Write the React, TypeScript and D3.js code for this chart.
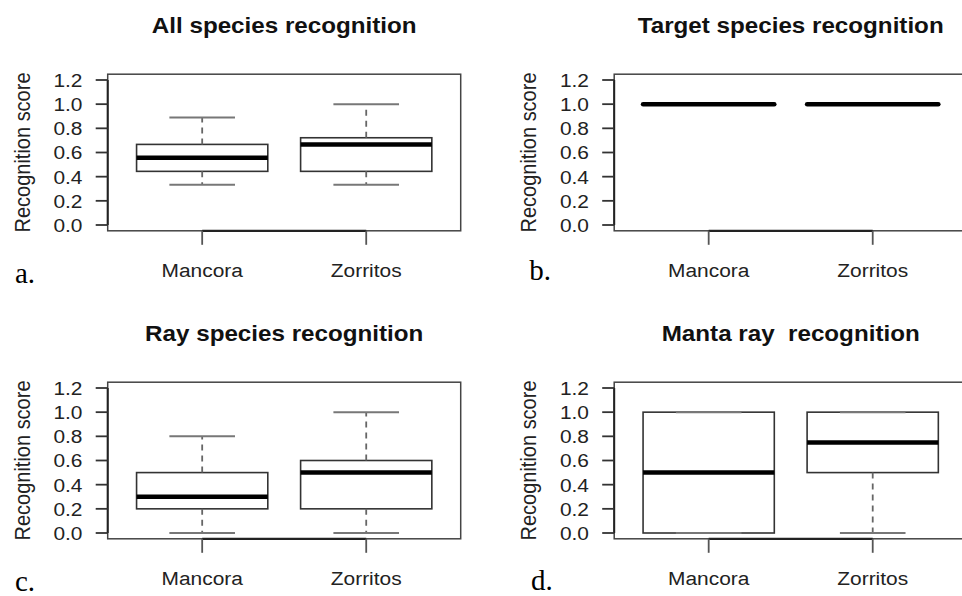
import React from 'react';
import * as d3 from 'd3';

// sites on the x axis
const categories = ['Mancora', 'Zorritos'];

// panel titles and corner letters
const panelTitles = ['All species recognition', 'Target species recognition', 'Ray species recognition', 'Manta ray  recognition'];
const panelLetters = ['a.', 'b.', 'c.', 'd.'];

// box stats per site: [lower whisker, Q1, median, Q3, upper whisker]
const allSpeciesStats = [
    [0.333, 0.444, 0.556, 0.667, 0.889],
    [0.333, 0.444, 0.667, 0.722, 1.0],
];
const targetSpeciesStats = [
    [1.0, 1.0, 1.0, 1.0, 1.0],
    [1.0, 1.0, 1.0, 1.0, 1.0],
];
const raySpeciesStats = [
    [0.0, 0.2, 0.3, 0.5, 0.8],
    [0.0, 0.2, 0.5, 0.6, 1.0],
];
const mantaRayStats = [
    [0.0, 0.0, 0.5, 1.0, 1.0],
    [0.0, 0.5, 0.75, 1.0, 1.0],
];

const yTicks = [0.0, 0.2, 0.4, 0.6, 0.8, 1.0, 1.2];
const yTitle = 'Recognition score';

const panelStats = [allSpeciesStats, targetSpeciesStats, raySpeciesStats, mantaRayStats];

// layout of one panel (local coords), panels are shifted copies
const plotLeft = 107.7;
const plotRight = 460.7;
const colShift = 506.5;
const rowShift = 308;
const letterPos = [[15, 282.7], [22.8, 280], [15, 282.5], [24.5, 281.5]];

const sans = 'Liberation Sans, Arial, Helvetica, sans-serif';

const Panel = ({ idx }) => {
    const col = idx % 2;
    const row = Math.floor(idx / 2);
    const stats = panelStats[idx];

    const y = d3.scaleLinear().domain([0, 1.2]).range([225, 80]);
    const x = d3.scalePoint().domain(categories).range([plotLeft, plotRight]).padding(0.576);
    const step = x.step();
    const boxW = step * 0.8;
    const capW = boxW * 0.5;

    const top = y(1.248);
    const bottom = y(-0.048);
    const midX = (plotLeft + plotRight) / 2;

    return (
        <g transform={`translate(${col * colShift},${row * rowShift})`}>
            {/* title */}
            <text
                transform={`translate(${midX},33.3) scale(1.1,1)`}
                textAnchor="middle"
                fontFamily={sans}
                fontWeight="bold"
                fontSize={22}
                fill="#111"
                style={{ whiteSpace: 'pre' }}
            >
                {panelTitles[idx]}
            </text>

            {/* plot frame */}
            <rect x={plotLeft} y={top} width={plotRight - plotLeft} height={bottom - top}
                fill="none" stroke="#444" strokeWidth={1.5} />

            {/* y axis */}
            <line x1={plotLeft} x2={plotLeft} y1={y(0)} y2={y(1.2)} stroke="#222" strokeWidth={2} />
            {yTicks.map(t => (
                <g key={t}>
                    <line x1={plotLeft - 12} x2={plotLeft} y1={y(t)} y2={y(t)} stroke="#333" strokeWidth={1.8} />
                    <text
                        transform={`translate(82.5,${y(t)}) scale(1.1,1)`}
                        dy="0.36em"
                        textAnchor="end"
                        fontFamily={sans}
                        fontSize={19}
                        fill="#222"
                    >
                        {t.toFixed(1)}
                    </text>
                </g>
            ))}
            <text
                transform={`translate(29.5,${(y(0) + y(1.2)) / 2}) scale(1.1,1) rotate(-90)`}
                textAnchor="middle"
                fontFamily={sans}
                fontSize={20}
                fill="#222"
            >
                {yTitle}
            </text>

            {/* x axis */}
            <line x1={x(categories[0])} x2={x(categories[categories.length - 1])} y1={bottom} y2={bottom}
                stroke="#222" strokeWidth={2.2} />
            {categories.map(c => (
                <g key={c}>
                    <line x1={x(c)} x2={x(c)} y1={bottom} y2={bottom + 14} stroke="#555" strokeWidth={1.8} />
                    <text
                        transform={`translate(${x(c)},276.7) scale(1.1,1)`}
                        textAnchor="middle"
                        fontFamily={sans}
                        fontSize={19}
                        fill="#222"
                    >
                        {c}
                    </text>
                </g>
            ))}

            {/* boxes */}
            {categories.map((c, i) => {
                const [lo, q1, med, q3, hi] = stats[i];
                const cx = x(c);
                return (
                    <g key={c}>
                        <rect x={cx - boxW / 2} y={y(q3)} width={boxW} height={y(q1) - y(q3)}
                            fill="white" stroke="#333" strokeWidth={1.6} />
                        <line x1={cx} x2={cx} y1={y(q3)} y2={y(hi)} stroke="#666" strokeWidth={1.8} strokeDasharray="6,5" />
                        <line x1={cx} x2={cx} y1={y(q1)} y2={y(lo)} stroke="#666" strokeWidth={1.8} strokeDasharray="6,5" />
                        <line x1={cx - capW / 2} x2={cx + capW / 2} y1={y(hi)} y2={y(hi)} stroke="#777" strokeWidth={2} />
                        <line x1={cx - capW / 2} x2={cx + capW / 2} y1={y(lo)} y2={y(lo)} stroke="#777" strokeWidth={2} />
                        <line x1={cx - boxW / 2} x2={cx + boxW / 2} y1={y(med)} y2={y(med)} stroke="#000"
                            strokeWidth={4.5} strokeLinecap={q1 === q3 ? 'round' : 'butt'} />
                    </g>
                );
            })}

            {/* panel letter */}
            <text x={letterPos[idx][0]} y={letterPos[idx][1]} fontFamily="Liberation Serif, Times New Roman, serif"
                fontSize={29} fill="#000">
                {panelLetters[idx]}
            </text>
        </g>
    );
};

export default function App() {
    return (
        <svg width={962} height={596} style={{ position: 'absolute', left: 0, top: 0, background: 'white' }}>
            <rect width={962} height={596} fill="white" />
            {[0, 1, 2, 3].map(i => <Panel key={i} idx={i} />)}
        </svg>
    );
}
